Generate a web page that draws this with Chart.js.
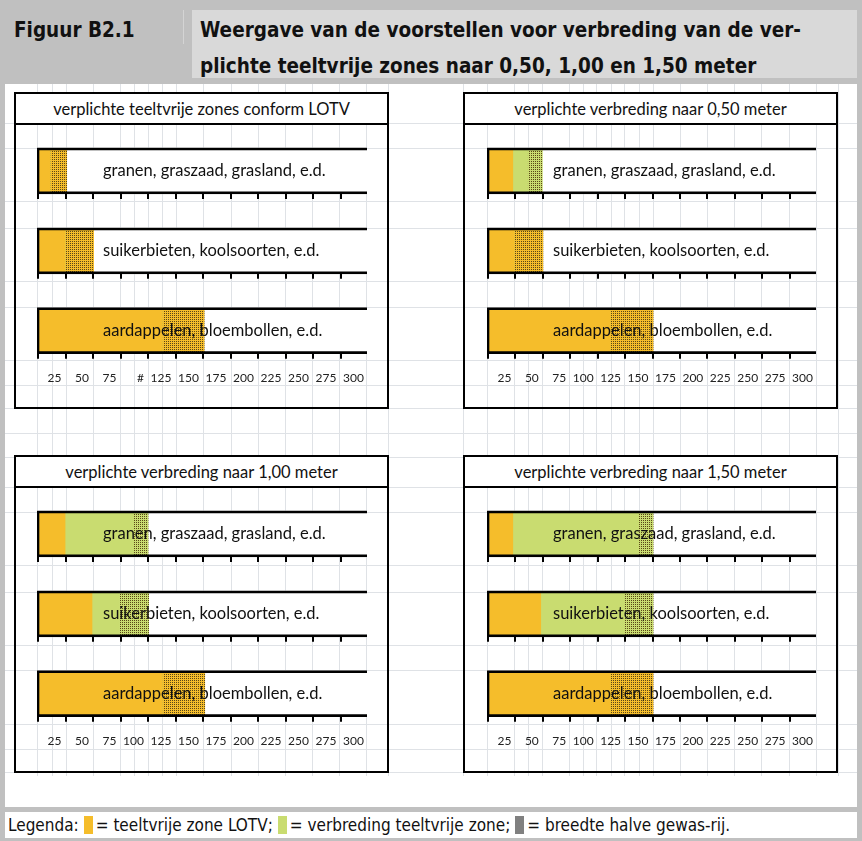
<!DOCTYPE html>
<html>
<head>
<meta charset="utf-8">
<script src="https://cdn.jsdelivr.net/npm/chart.js@4.4.1/dist/chart.umd.min.js"></script>
<style>
  body { margin: 0; width: 862px; height: 841px; background: #c0c0c0; position: relative; overflow: hidden;
         font-family: "DejaVu Sans Condensed", "DejaVu Sans", sans-serif; font-stretch: condensed; }
  .abs { position: absolute; }
  #kop1 { left: 14px; top: 12px; font-weight: bold; font-size: 20.5px; line-height: 36px; color: #111; }
  #kopVak { left: 192px; top: 10px; width: 665px; height: 68px; background: #d9d9d9; }
  #kop2 { left: 200px; top: 12px; font-weight: bold; font-size: 20.5px; line-height: 36px; color: #111; white-space: nowrap; }
  #deler { left: 183px; top: 10px; width: 1px; height: 34px; background: #d4d4d4; }
  #blad { left: 5px; top: 84px; width: 852px; height: 723px; background: #fff; }
  #legenda { left: 5px; top: 812px; width: 852px; height: 26px; background: #fff; font-size: 17px; line-height: 26px;
             color: #111; padding-left: 3px; box-sizing: border-box; white-space: nowrap; }
  .blok { display: inline-block; width: 9px; height: 18px; vertical-align: -3px; margin: 0 3px 0 5px; }
  .lijn { position: absolute; background: #dfe2e6; }
  .paneel { position: absolute; border: 2px solid #000; box-sizing: border-box; }
  .titel { position: absolute; left: 0; top: 0; right: 0; height: 29px; border-bottom: 2px solid #000; background: #fff;
           font-family: Lato, sans-serif; font-size: 16.5px; line-height: 30px; text-align: center; color: #111; }
  canvas { position: absolute; }
</style>
</head>
<body>
<div id="kopVak" class="abs"></div>
<div id="deler" class="abs"></div>
<div id="kop1" class="abs">Figuur B2.1</div>
<div id="kop2" class="abs">Weergave van de voorstellen voor verbreding van de ver-<br>plichte teeltvrije zones naar 0,50, 1,00 en 1,50 meter</div>
<div id="blad" class="abs"></div>
<div id="legenda" class="abs">Legenda:<span class="blok" style="background:#f5bd2b"></span>= teeltvrije zone LOTV;<span class="blok" style="background:#c9dc70"></span>= verbreding teeltvrije zone;<span class="blok" style="background:#808080"></span>= breedte halve gewas-rij.</div>

<script>
// gewassen (één balk per gewasgroep)
const categories = ["granen, graszaad, grasland, e.d.", "suikerbieten, koolsoorten, e.d.", "aardappelen, bloembollen, e.d."];

// as: 0..300 cm per 25
const tickLabelsLOTV = ["", "25", "50", "75", "#", "125", "150", "175", "200", "225", "250", "275", "300"];
const tickLabels     = ["", "25", "50", "75", "100", "125", "150", "175", "200", "225", "250", "275", "300"];
const axisMax = 300;
const frameWidth = [300, 300, 300];

const titles = [
  "verplichte teeltvrije zones conform LOTV",
  "verplichte verbreding naar 0,50 meter",
  "verplichte verbreding naar 1,00 meter",
  "verplichte verbreding naar 1,50 meter"
];

// teeltvrije zone LOTV / verbreding / halve gewasrij (cm)
const lotvZone  = [12, 25.5, 114];
const lotvExtra = [0, 0, 0];
const lotvRij   = [15, 26, 38];

const m050Zone  = [23.5, 24.5, 112];
const m050Extra = [13.5, 0, 0];
const m050Rij   = [13.5, 26.5, 39.5];

const m100Zone  = [25.5, 50, 114];
const m100Extra = [62, 25, 0];
const m100Rij   = [13.5, 26.5, 38.5];

const m150Zone  = [23.5, 49, 112];
const m150Extra = [114, 76, 0];
const m150Rij   = [14, 26.5, 39.5];

// ===============================
// kleuren en stippelpatroon
// ===============================
const ORANJE = "#f5bd2b";
const GROEN  = "#c9dc70";

function stippels(basis) {
  const c = document.createElement("canvas");
  c.width = 2; c.height = 2;
  const g = c.getContext("2d");
  g.fillStyle = basis;
  g.fillRect(0, 0, 2, 2);
  g.fillStyle = "#5a4818";
  g.fillRect(0, 0, 1, 1);
  return g.createPattern(c, "repeat");
}
const oranjeStip = stippels(ORANJE);
const groenStip  = stippels(GROEN);

// ===============================
// achtergrondraster (Excel-cellen)
// ===============================
const rasterX = [37, 52, 66, 93, 120, 134, 148, 162, 176, 203, 231, 258, 285, 312, 339, 366, 388,
                 463, 487, 514, 528, 542, 569, 583, 596, 611, 624, 639, 653, 680, 707, 734, 761, 789, 816, 838];
const rasterY = [123, 148, 201, 228, 281, 307, 360, 385, 408, 433, 457, 487, 512, 565, 592, 645, 670, 724, 749, 772];

rasterX.forEach(x => {
  const d = document.createElement("div");
  d.className = "lijn";
  d.style.cssText = `left:${x}px;top:84px;width:1px;height:692px`;
  document.body.appendChild(d);
});
rasterY.forEach(y => {
  const d = document.createElement("div");
  d.className = "lijn";
  d.style.cssText = `left:5px;top:${y}px;width:852px;height:1px`;
  document.body.appendChild(d);
});

// ===============================
// streepjes onder elke balk
// ===============================
const balkStreepjes = {
  id: "balkStreepjes",
  afterDatasetsDraw(chart) {
    const { ctx, scales: { x, y } } = chart;
    ctx.save();
    ctx.strokeStyle = "#000";
    ctx.lineWidth = 2;
    ctx.beginPath();
    categories.forEach((c, i) => {
      const yb = y.getPixelForTick(i) + 23;
      for (let v = 0; v < axisMax; v += 25) {
        const px = Math.round(x.getPixelForValue(v)) + 1;
        ctx.moveTo(px, yb - 1);
        ctx.lineTo(px, yb + 5);
      }
    });
    ctx.stroke();
    ctx.restore();
  }
};

// ===============================
// vier panelen
// ===============================
const panelen = [
  { titel: titles[0], zone: lotvZone, extra: lotvExtra, rij: lotvRij, labels: tickLabelsLOTV, left: 14, top: 92, w: 375, h: 317, padL: 21, padR: 20 },
  { titel: titles[1], zone: m050Zone, extra: m050Extra, rij: m050Rij, labels: tickLabels, left: 463, top: 92, w: 375, h: 317, padL: 22, padR: 20 },
  { titel: titles[2], zone: m100Zone, extra: m100Extra, rij: m100Rij, labels: tickLabels, left: 14, top: 455, w: 375, h: 318, padL: 21, padR: 20 },
  { titel: titles[3], zone: m150Zone, extra: m150Extra, rij: m150Rij, labels: tickLabels, left: 463, top: 455, w: 375, h: 318, padL: 22, padR: 20 }
];

panelen.forEach(p => {
  const box = document.createElement("div");
  box.className = "paneel";
  box.style.cssText = `left:${p.left}px;top:${p.top}px;width:${p.w}px;height:${p.h}px`;
  box.innerHTML = `<div class="titel">${p.titel}</div>`;
  document.body.appendChild(box);

  const cv = document.createElement("canvas");
  cv.width = p.w - 4;
  cv.height = 281;
  cv.style.left = (p.left + 2) + "px";
  cv.style.top = (p.top + 33) + "px";
  document.body.appendChild(cv);

  new Chart(cv.getContext("2d"), {
    type: "bar",
    data: {
      labels: categories,
      datasets: [
        { label: "vlak", data: frameWidth, stack: "achter", backgroundColor: "#fff", borderWidth: 0,
          barThickness: 46, grouped: false, order: 10 },
        { label: "teeltvrije zone LOTV", data: p.zone, stack: "zone", backgroundColor: ORANJE,
          barThickness: 42, grouped: false, order: 1 },
        { label: "verbreding teeltvrije zone", data: p.extra, stack: "zone", backgroundColor: GROEN,
          barThickness: 42, grouped: false, order: 2 },
        { label: "breedte halve gewas-rij", data: p.rij, stack: "zone",
          backgroundColor: c => p.extra[c.dataIndex] > 0 ? groenStip : oranjeStip,
          barThickness: 42, grouped: false, order: 3 },
        { label: "rand", data: frameWidth, stack: "rand", backgroundColor: "rgba(0,0,0,0)", borderColor: "#000",
          borderWidth: { top: 2, bottom: 2, left: 2, right: 0 }, borderSkipped: false,
          barThickness: 46, grouped: false, order: 0 }
      ]
    },
    options: {
      indexAxis: "y",
      responsive: false,
      animation: false,
      devicePixelRatio: 1,
      layout: { padding: { left: p.padL, right: p.padR, top: 6, bottom: 21 } },
      plugins: { legend: { display: false }, tooltip: { enabled: false } },
      scales: {
        x: {
          type: "linear", min: 0, max: axisMax, stacked: true,
          ticks: { stepSize: 25, autoSkip: false, maxRotation: 0, align: "end", labelOffset: -3, padding: 0,
                   color: "#222", font: { family: "Lato", size: 12 },
                   callback: (v, i) => p.labels[i] },
          grid: { display: false, drawTicks: false },
          border: { display: false }
        },
        y: {
          type: "category", z: 1,
          ticks: { z: 1, mirror: true, padding: 66, color: "#111", font: { family: "Lato", size: 16.5 } },
          grid: { display: false, drawTicks: false },
          border: { display: false },
          // gespiegelde labels nemen geen ruimte in
          afterFit: s => { s.width = 0; s.paddingTop = 0; s.paddingBottom = 0; }
        }
      }
    },
    plugins: [balkStreepjes]
  });
});
</script>
</body>
</html>
